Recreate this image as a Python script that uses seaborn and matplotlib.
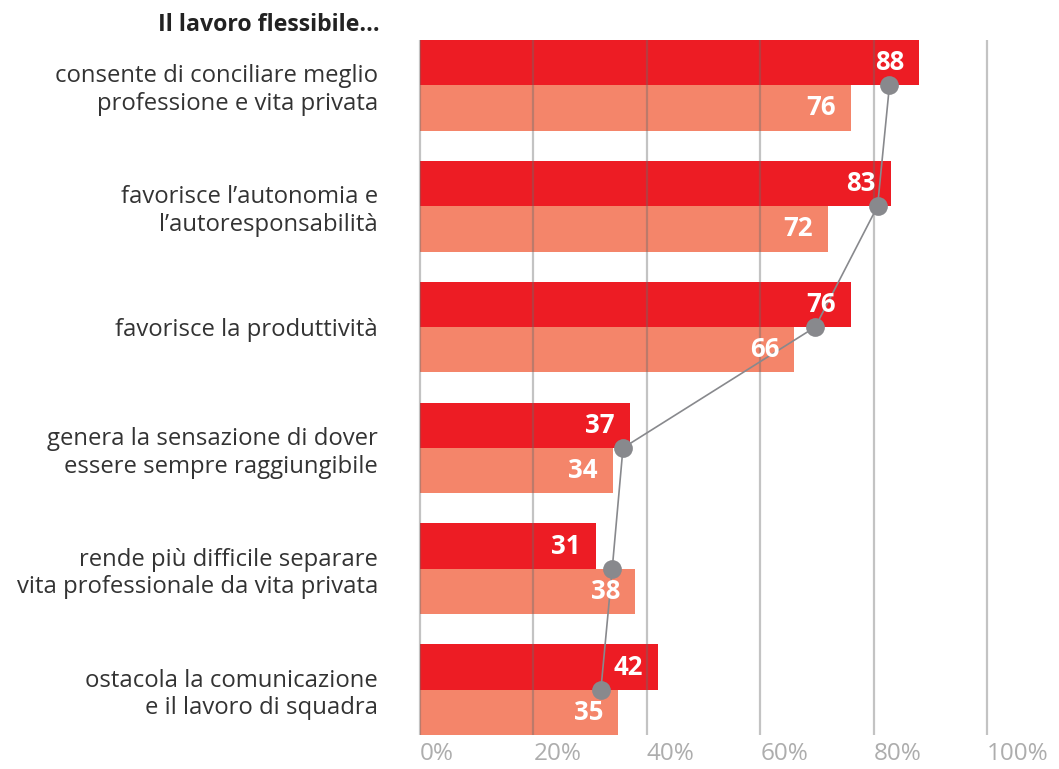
import numpy as np
import pandas as pd
import matplotlib
matplotlib.use("Agg")
import matplotlib.pyplot as plt
import seaborn as sns

categories = [
    "consente di conciliare meglio\nprofessione e vita privata",
    "favorisce l’autonomia e\nl’autoresponsabilità",
    "favorisce la produttività",
    "genera la sensazione di dover\nessere sempre raggiungibile",
    "rende più difficile separare\nvita professionale da vita privata",
    "ostacola la comunicazione\ne il lavoro di squadra",
]
series_names = ["serie_1", "serie_2"]
values_1 = [88, 83, 76, 37, 31, 42]
values_2 = [76, 72, 66, 34, 38, 35]
line_values = [82.8, 80.7, 69.7, 35.8, 33.9, 31.9]
xticks = [0, 20, 40, 60, 80, 100]

RED = "#ed1c24"
SALMON = "#f4856a"
GREY = "#88898d"

df = pd.DataFrame({
    "categoria": categories * 2,
    "valore": values_1 + values_2,
    "serie": [series_names[0]] * 6 + [series_names[1]] * 6,
})

sns.set_theme(style="white")
plt.rcParams["font.family"] = ["Open Sans", "DejaVu Sans"]

W, H = 1059, 769
fig = plt.figure(figsize=(W / 100, H / 100), dpi=100)
x0 = 420 - 0.3 * 5.67
x1 = 987 + 0.3 * 5.67
ax = fig.add_axes([x0 / W, 1 - 735 / H, (x1 - x0) / W, (735 - 40) / H])

sns.barplot(
    data=df, x="valore", y="categoria", hue="serie",
    palette=[RED, SALMON], saturation=1, width=0.75, gap=0,
    legend=False, ax=ax, orient="h", linewidth=0,
)

sns.lineplot(
    x=line_values, y=np.arange(len(categories)), sort=False, estimator=None,
    color=GREY, lw=1.2, marker="o", markersize=13.5, markeredgewidth=0,
    ax=ax, zorder=4,
)

for cont in ax.containers:
    for bar in cont:
        w = bar.get_width()
        ax.annotate(
            f"{w:.0f}", xy=(w, bar.get_y() + bar.get_height() / 2),
            xytext=(-15, 0), textcoords="offset pixels",
            ha="right", va="center", color="white",
            fontsize=18.5, fontweight="bold", zorder=5,
        )

ax.set_xlim(-0.3, 100.3)
ax.set_ylim(len(categories) - 0.625, -0.375)
ax.set_xticks(xticks)
ax.set_xticklabels([f"{t}%" for t in xticks])
for lbl in ax.get_xticklabels():
    lbl.set_ha("left")
ax.grid(axis="x", color="#6a6a6a", alpha=0.4, lw=1.6)
ax.grid(axis="y", visible=False)
ax.set_axisbelow(False)
ax.tick_params(axis="x", length=0, pad=5, labelsize=17.5, labelcolor="#adadad")
ax.tick_params(axis="y", length=0, pad=29, labelsize=17.2, labelcolor="#333333")
ax.set_xlabel("")
ax.set_ylabel("")
sns.despine(ax=ax, left=True, bottom=True)

fig.text(380 / W, 1 - 25 / H, "Il lavoro flessibile...", ha="right", va="center",
         fontsize=16.7, fontweight="bold", color="#222222")

fig.savefig("out.png", dpi=100)
